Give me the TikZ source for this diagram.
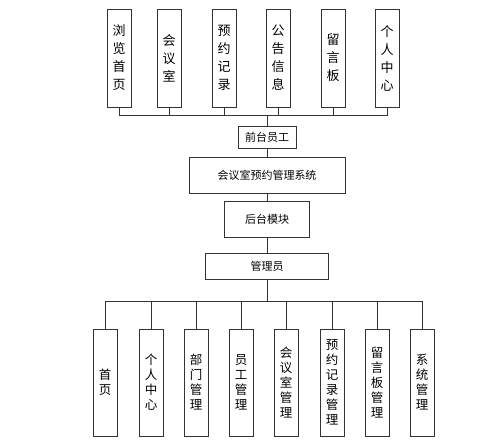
\documentclass[tikz,border=0pt]{standalone}
\usepackage{fontspec}
\setmainfont{Noto Sans CJK SC}

\tikzset{
  line/.style={draw=black!80, line width=0.8pt},
  topbox/.style={line, minimum width=24pt, minimum height=98pt, inner sep=0pt,
    align=center, font=\fontsize{13}{18}\selectfont},
  subbox/.style={line, minimum width=24pt, minimum height=107pt, inner sep=0pt,
    align=center, font=\fontsize{12.5}{15}\selectfont},
  midbox/.style={line, inner sep=0pt, font=\fontsize{11}{13}\selectfont}
}

\begin{document}
\begin{tikzpicture}[x=1pt,y=-1pt]
\useasboundingbox (0,0) rectangle (499,440);

% front side
\foreach \x/\t [count=\i] in {119/{浏\\览\\首\\页}, 169/{会\\议\\室}, 224/{预\\约\\记\\录},
    278/{公\\告\\信\\息}, 333/{留\\言\\板}, 387/{个\\人\\中\\心}}
  \node[topbox] (top\i) at (\x,58) {\t};
\coordinate (topbus) at (267,115);

\node[midbox, minimum width=58pt, minimum height=22pt] (front) at (267,137) {前台员工};
\node[midbox, minimum width=156pt, minimum height=36pt] (system) at (267,175) {会议室预约管理系统};
\node[midbox, minimum width=85pt, minimum height=36pt] (back) at (267,219) {后台模块};
\node[midbox, minimum width=123pt, minimum height=26pt] (admin) at (267,266) {管理员};

% back side
\foreach \x/\t [count=\i] in {105/{首\\页}, 151/{个\\人\\中\\心}, 196/{部\\门\\管\\理},
    241/{员\\工\\管\\理}, 286/{会\\议\\室\\管\\理}, 332/{预\\约\\记\\录\\管\\理},
    377/{留\\言\\板\\管\\理}, 422/{系\\统\\管\\理}}
  \node[subbox] (sub\i) at (\x,382.5) {\t};
\coordinate (subbus) at (267,301);

\foreach \i in {1,...,6}
  \draw[line] (top\i.south) |- (topbus);
\draw[line] (topbus) -- (front.north);
\draw[line] (front) -- (system);
\draw[line] (system) -- (back);
\draw[line] (back) -- (admin);
\draw[line] (admin.south) -- (subbus);
\foreach \i in {1,...,8}
  \draw[line] (subbus) -| (sub\i.north);
\end{tikzpicture}
\end{document}
